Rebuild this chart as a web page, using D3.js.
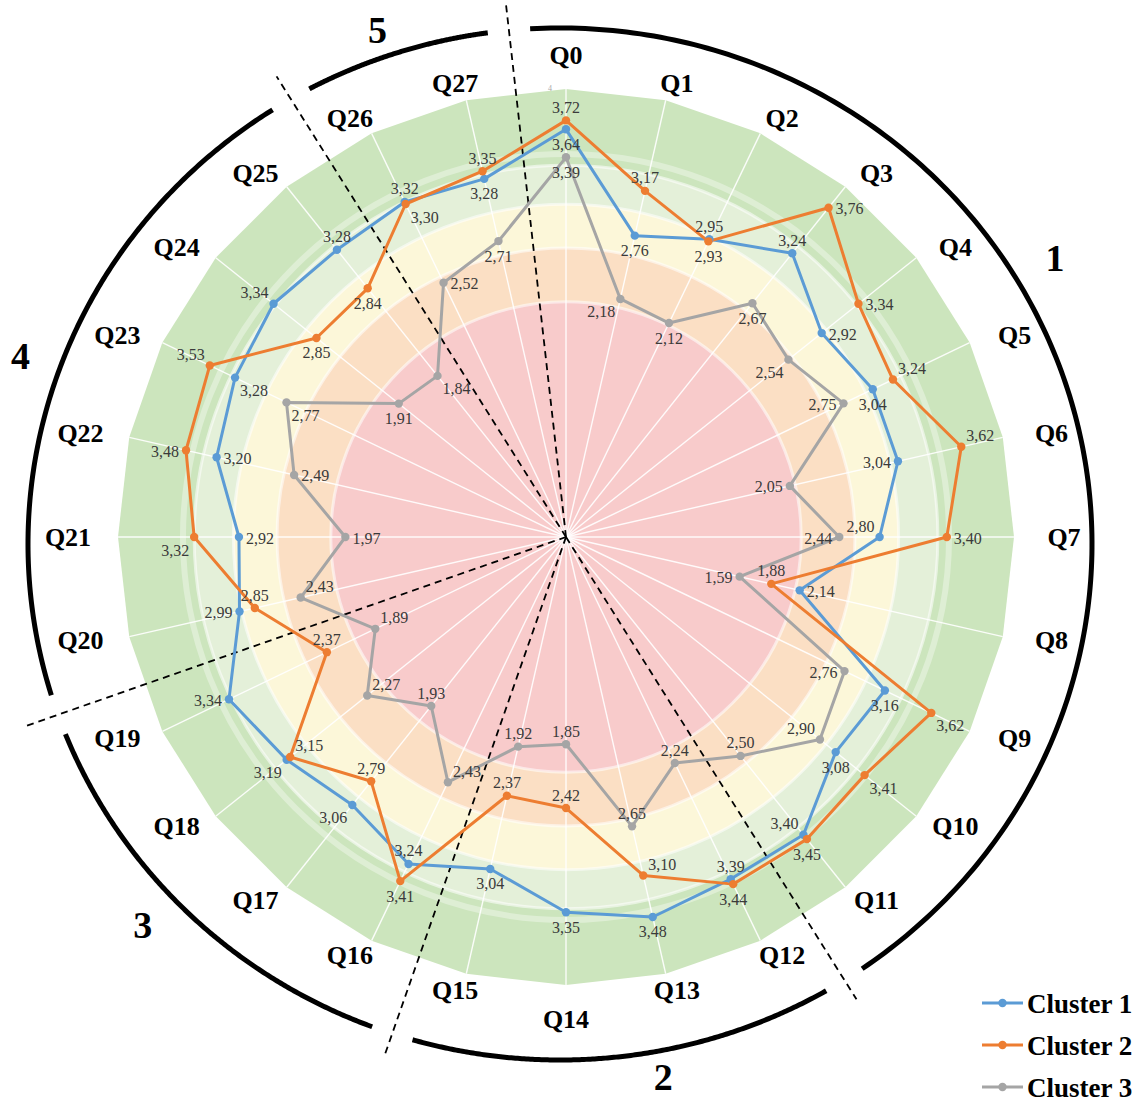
<!DOCTYPE html>
<html><head><meta charset="utf-8">
<script src="https://cdn.jsdelivr.net/npm/d3@7"></script>
<style>body{margin:0;background:#fff}svg{display:block}</style>
</head><body>
<svg id="chart" width="1142" height="1106"></svg>
<script>
const categories = ["Q0","Q1","Q2","Q3","Q4","Q5","Q6","Q7","Q8","Q9","Q10","Q11","Q12","Q13","Q14","Q15","Q16","Q17","Q18","Q19","Q20","Q21","Q22","Q23","Q24","Q25","Q26","Q27"];
const cluster1 = [3.64,2.76,2.95,3.24,2.92,3.04,3.04,2.80,2.14,3.16,3.08,3.40,3.39,3.48,3.35,3.04,3.24,3.06,3.19,3.34,2.99,2.92,3.20,3.28,3.34,3.28,3.32,3.28];
const cluster2 = [3.72,3.17,2.93,3.76,3.34,3.24,3.62,3.40,1.88,3.62,3.41,3.45,3.44,3.10,2.42,2.37,3.41,2.79,3.15,2.37,2.85,3.32,3.48,3.53,2.85,2.84,3.30,3.35];
const cluster3 = [3.39,2.18,2.12,2.67,2.54,2.75,2.05,2.44,1.59,2.76,2.90,2.50,2.24,2.65,1.85,1.92,2.43,1.93,2.27,1.89,2.43,1.97,2.49,2.77,1.91,1.84,2.52,2.71];
const seriesNames = ["Cluster 1","Cluster 2","Cluster 3"];
// label placement relative to each point
const place1 = ["S","S","N","N","E","S","W","NW","E","S","S","NW","N","S","S","S","N","SW","SW","W","W","E","E","SE","NW","N","N","S"];
const place2 = ["N","N","S","E","E","NE","NE","E","N","SE","SE","S","S","NE","N","N","S","N","NE","N","N","SW","W","NW","S","S","SE","N"];
const place3 = ["S","SW","S","S","SW","W","W","W","W","W","NW","N","N","N","N","N","NE","N","NE","NE","NE","E","E","SE","S","SE","E","S"];
const bandEdges = [2.1, 2.58, 2.97, 3.32, 4];
const radialTicks = [4];
const sectorNames = ["1","2","3","4","5"];
const sectorFirst = [0,12,16,20,26];

const colors = ["#5b9bd5","#ed7d31","#a5a5a5"];
const bandColors = ["#f8cbcb","#fbdfc4","#fcf7d9","#e4f0d9","#cce5bd"];

const svg = d3.select("#chart");
const cx = 566, cy = 537;
const n = categories.length;
const r = d3.scaleLinear().domain([0,4]).range([0,448]);
const ang = d3.scaleLinear().domain([0,n]).range([0,2*Math.PI]);
const g = svg.append("g").attr("transform",`translate(${cx},${cy})`);
const pt = (i,v) => [Math.sin(ang(i))*r(v), -Math.cos(ang(i))*r(v)];
const serif = "'Liberation Serif','Times New Roman',serif";

// bands (outer first)
d3.range(bandEdges.length).reverse().forEach(k=>{
  if(k===bandEdges.length-1){
    const poly = d3.range(n).map(i=>pt(i,bandEdges[k]));
    g.append("path").attr("d","M"+poly.join("L")+"Z").attr("fill",bandColors[k]);
  } else {
    g.append("circle").attr("r",r(bandEdges[k])).attr("fill",bandColors[k]);
  }
});
bandEdges.slice(0,-1).forEach(e=>{
  g.append("circle").attr("r",r(e)).attr("fill","none").attr("stroke","#fff").attr("stroke-opacity",0.55).attr("stroke-width",3);
});
g.append("circle").attr("r",r(3.42)).attr("fill","none").attr("stroke","#fff").attr("stroke-opacity",0.35).attr("stroke-width",6);
// spokes
d3.range(n).forEach(i=>{
  const p = pt(i,4);
  g.append("line").attr("x1",0).attr("y1",0).attr("x2",p[0]).attr("y2",p[1]).attr("stroke","#fff").attr("stroke-width",1.4).attr("stroke-opacity",0.9);
});
radialTicks.forEach(t=>{
  g.append("text").attr("x",-16).attr("y",-r(t)+2).attr("font-size",8).attr("fill","#aaa").attr("font-family",serif).attr("text-anchor","middle").text(t);
});

// dashed sector separators
const rayLen = [536, 546, 548, 572, 544];
sectorFirst.forEach((f,k)=>{
  const a = ang(f-0.5);
  g.append("line").attr("x1",0).attr("y1",0)
    .attr("x2",Math.sin(a)*rayLen[k]).attr("y2",-Math.cos(a)*rayLen[k])
    .attr("stroke","#000").attr("stroke-width",1.8).attr("stroke-dasharray","7,5");
});

// outer elliptical arcs
const ecx = 560, ecy = 544, erx = 532, ery = 516;
function rayEllipseParam(a){
  const dx = Math.sin(a), dy = -Math.cos(a);
  const ox = cx-ecx, oy = cy-ecy;
  const A = dx*dx/(erx*erx)+dy*dy/(ery*ery);
  const B = 2*(ox*dx/(erx*erx)+oy*dy/(ery*ery));
  const C = ox*ox/(erx*erx)+oy*oy/(ery*ery)-1;
  const t = (-B+Math.sqrt(B*B-4*A*C))/(2*A);
  const px = ox+dx*t, py = oy+dy*t;
  return Math.atan2(px/erx,-py/ery);
}
const gapA = 0.04;
const eLine = d3.line().x(p=>ecx+erx*Math.sin(p)).y(p=>ecy-ery*Math.cos(p));
sectorFirst.forEach((f,k)=>{
  const nextF = k<sectorFirst.length-1 ? sectorFirst[k+1] : sectorFirst[0]+n;
  let a0 = rayEllipseParam(ang(f-0.5))+gapA;
  let a1 = rayEllipseParam(ang(nextF-0.5))-gapA;
  while(a1<=a0) a1 += 2*Math.PI;
  const ps = d3.range(0,201).map(j=>a0+(a1-a0)*j/200);
  svg.append("path").attr("d",eLine(ps)).attr("fill","none").attr("stroke","#000").attr("stroke-width",5);
});
// sector labels
const sectorLabelAng = [60.3,169.8,227.5,288.4,339.6];
const sectorLabelR = [563,549,574,575,541];
sectorNames.forEach((s,k)=>{
  const a = sectorLabelAng[k]*Math.PI/180;
  g.append("text").attr("x",Math.sin(a)*sectorLabelR[k]).attr("y",-Math.cos(a)*sectorLabelR[k])
   .attr("text-anchor","middle").attr("dominant-baseline","central")
   .attr("font-family",serif).attr("font-weight","bold").attr("font-size",38).text(s);
});

// category labels
categories.forEach((c,i)=>{
  const a = ang(i);
  const ry = Math.abs(Math.cos(a))>0.99 ? 482 : 465;
  g.append("text").attr("x",Math.sin(a)*498).attr("y",-Math.cos(a)*ry)
    .attr("text-anchor","middle").attr("dominant-baseline","central")
    .attr("font-family",serif).attr("font-weight","bold").attr("font-size",26).text(c);
});

// series
const allSeries = [cluster1,cluster2,cluster3];
const places = [place1,place2,place3];
const line = d3.lineRadial().angle((d,i)=>ang(i)).radius(d=>r(d)).curve(d3.curveLinearClosed);
[2,0,1].forEach(s=>{
  g.append("path").attr("d",line(allSeries[s])).attr("fill","none").attr("stroke",colors[s]).attr("stroke-width",3).attr("stroke-linejoin","round");
});
[2,0,1].forEach(s=>{
  g.selectAll(null).data(allSeries[s]).enter().append("circle")
   .attr("cx",(d,i)=>pt(i,d)[0]).attr("cy",(d,i)=>pt(i,d)[1]).attr("r",4.2).attr("fill",colors[s]);
});
const fmt = v => d3.format(".2f")(v).replace(".",",");
const off = {N:[0,-13,"middle"],S:[0,15,"middle"],E:[7,1,"start"],W:[-7,1,"end"],NE:[5,-11,"start"],NW:[-5,-11,"end"],SE:[5,13,"start"],SW:[-5,13,"end"]};
[0,1,2].forEach(s=>{
  g.selectAll(null).data(allSeries[s]).enter().append("text")
   .attr("x",(d,i)=>pt(i,d)[0]+off[places[s][i]][0])
   .attr("y",(d,i)=>pt(i,d)[1]+off[places[s][i]][1])
   .attr("text-anchor",(d,i)=>off[places[s][i]][2]).attr("dominant-baseline","central")
   .attr("font-family",serif).attr("font-size",16).attr("fill","#3a3a3a").text(d=>fmt(d));
});

// legend
const lg = svg.append("g").attr("transform","translate(982,1003)");
seriesNames.forEach((nm,k)=>{
  const row = lg.append("g").attr("transform",`translate(0,${k*42})`);
  row.append("line").attr("x1",0).attr("x2",41).attr("stroke",colors[k]).attr("stroke-width",3);
  row.append("circle").attr("cx",20.5).attr("r",4.2).attr("fill",colors[k]);
  row.append("text").attr("x",45).attr("y",1).attr("dominant-baseline","central")
    .attr("font-family",serif).attr("font-weight","bold").attr("font-size",27).text(nm);
});
</script>
</body></html>
